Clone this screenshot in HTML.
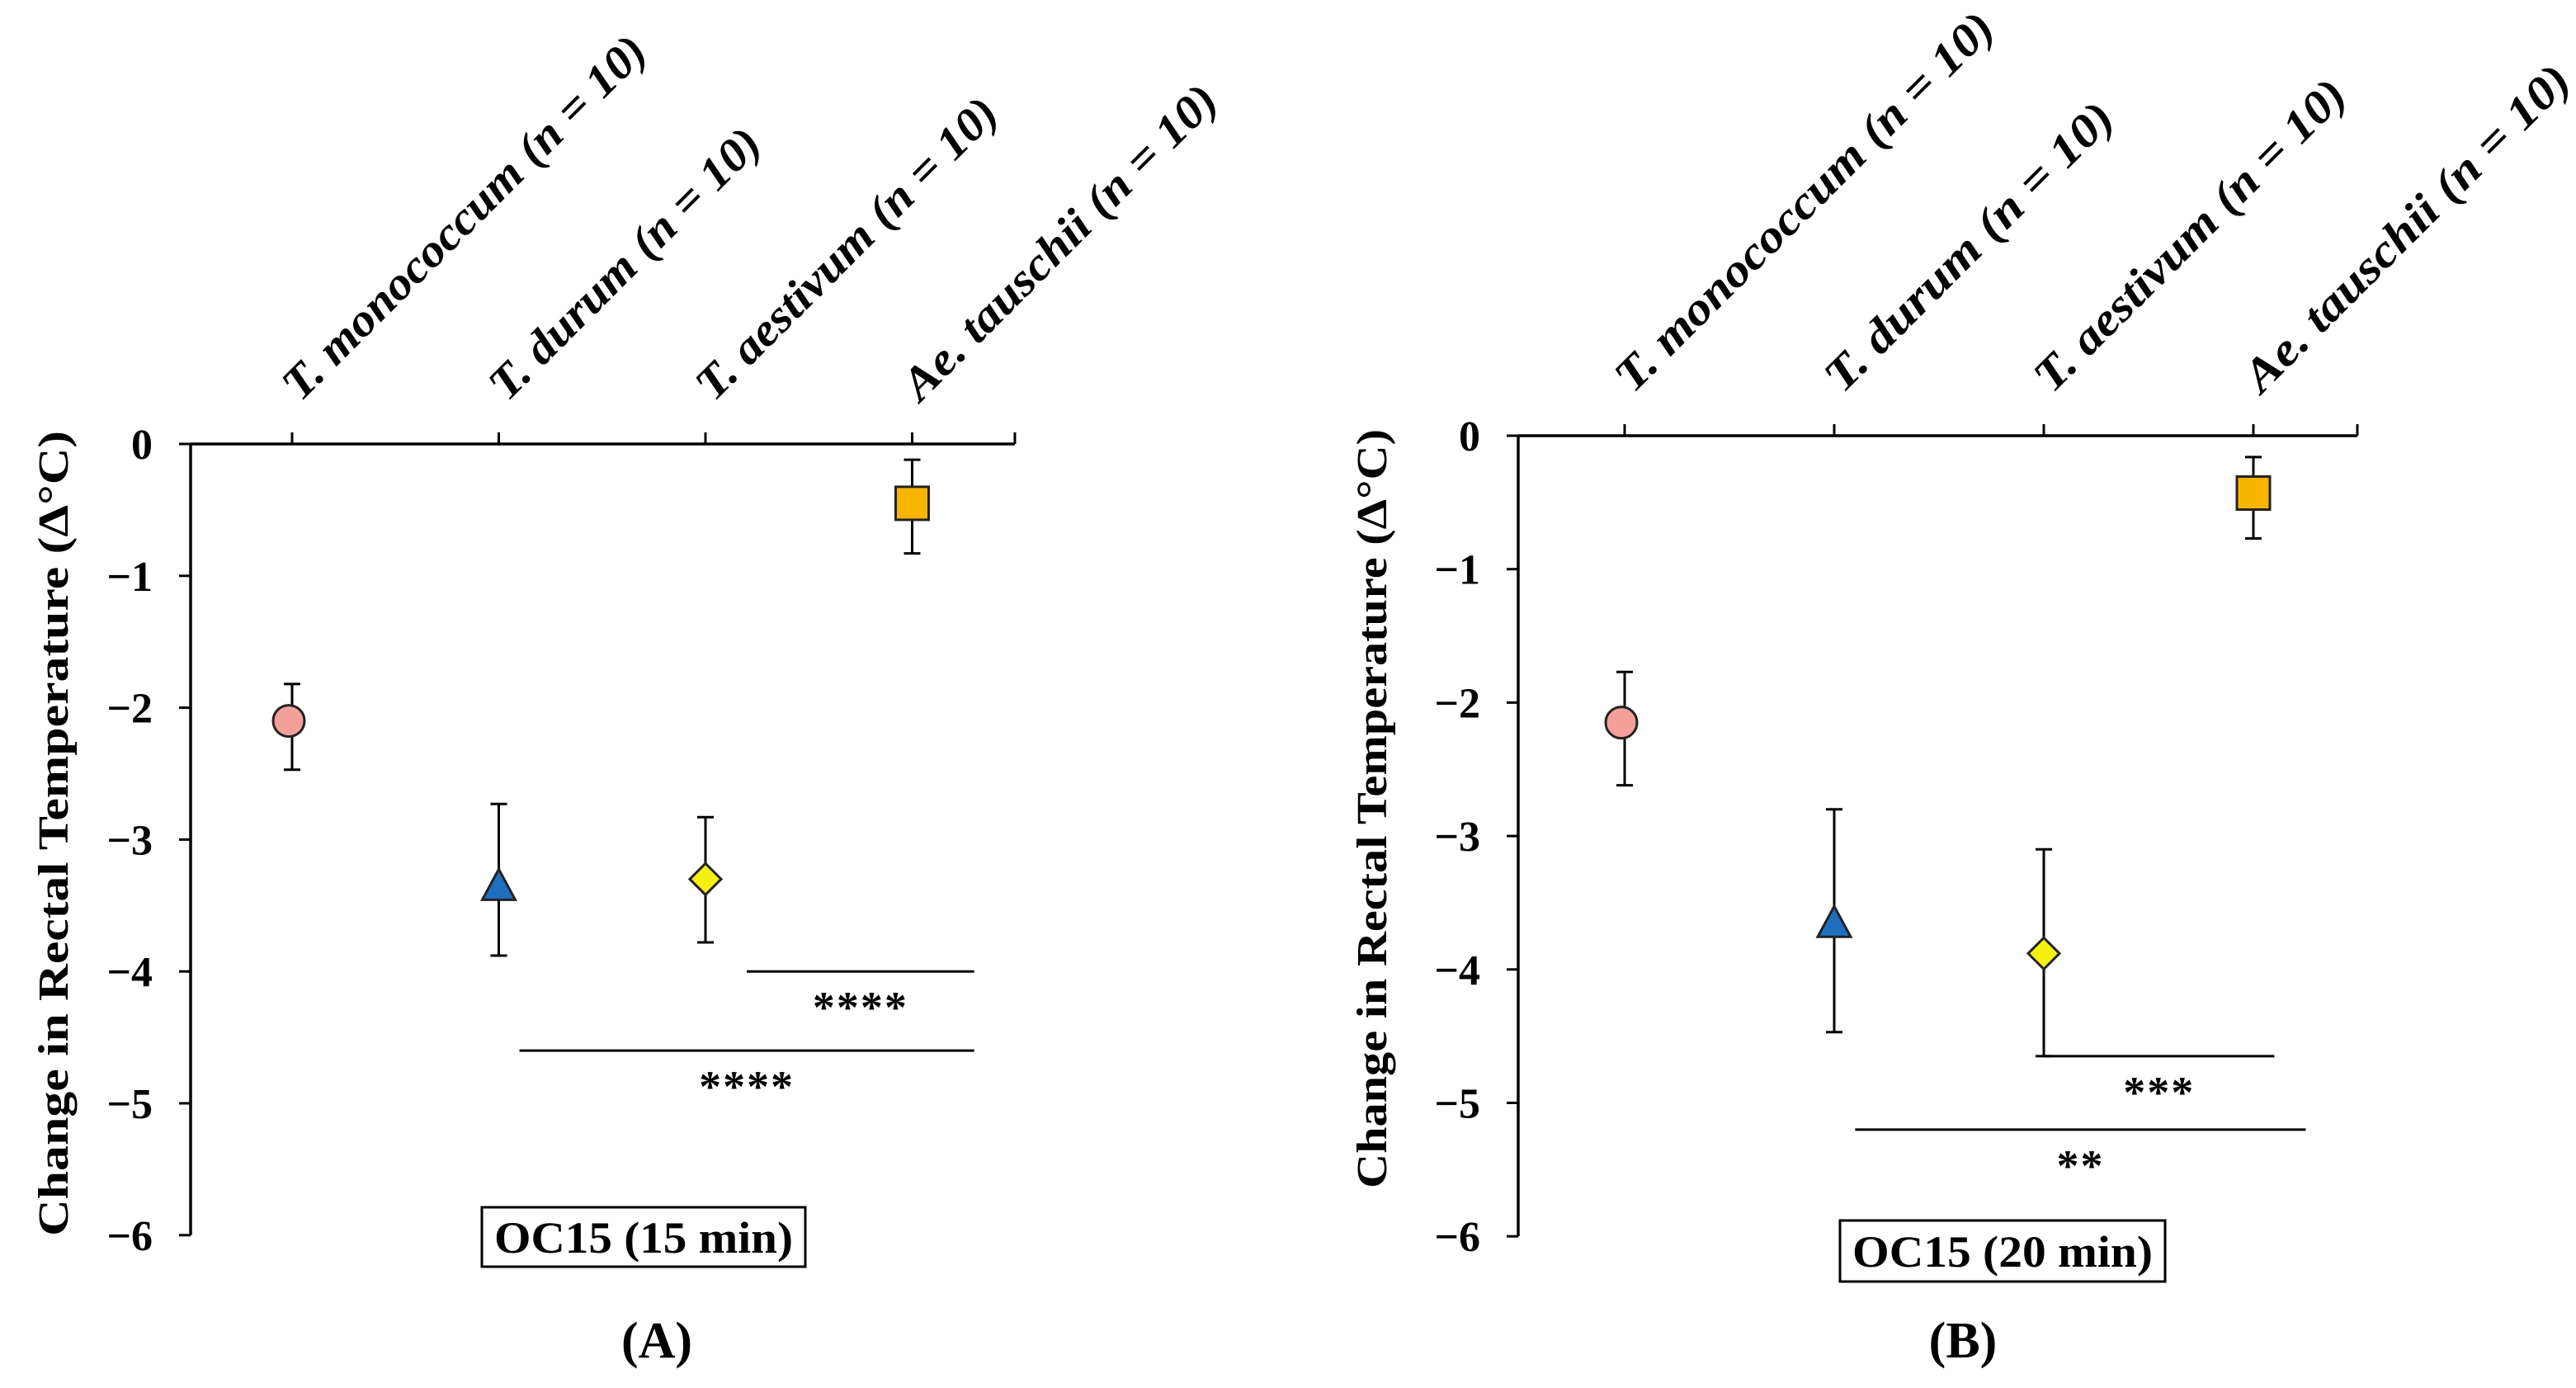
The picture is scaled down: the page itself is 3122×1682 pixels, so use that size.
<!DOCTYPE html>
<html><head><meta charset="utf-8"><style>
html,body{margin:0;padding:0;background:#fff;}
svg{display:block;}
text{font-family:"Liberation Serif",serif;fill:#000;}
</style></head><body>
<svg id="fig" width="3122" height="1682" viewBox="0 0 3122 1682" xmlns="http://www.w3.org/2000/svg"></svg>
<script>
const categoriesA = ["T. monococcum (n = 10)","T. durum (n = 10)","T. aestivum (n = 10)","Ae. tauschii (n = 10)"];
const categoriesB = ["T. monococcum  (n = 10)","T. durum  (n = 10)","T. aestivum (n = 10)","Ae. tauschii (n = 10)"];
const meansA = [-2.1,-3.35,-3.3,-0.45];
const upperA = [-1.82,-2.73,-2.83,-0.12];
const lowerA = [-2.47,-3.88,-3.78,-0.83];
const meansB = [-2.15,-3.65,-3.88,-0.43];
const upperB = [-1.77,-2.8,-3.1,-0.16];
const lowerB = [-2.62,-4.47,-4.65,-0.77];
const yTicks = [0,-1,-2,-3,-4,-5,-6];
const yTickLabels = ["0","\u22121","\u22122","\u22123","\u22124","\u22125","\u22126"];
const sigA = [{from:2.2,to:3.3,y:-4.0,label:"****"},{from:1.1,to:3.3,y:-4.6,label:"****"}];
const sigB = [{from:2.0,to:3.1,y:-4.65,label:"***"},{from:1.1,to:3.25,y:-5.2,label:"**"}];

const svg = document.getElementById('fig');
const NS = "http://www.w3.org/2000/svg";
function mk(tag, attrs, parent){
  const e = document.createElementNS(NS, tag);
  for (const k in attrs) e.setAttribute(k, attrs[k]);
  (parent||svg).appendChild(e);
  return e;
}
const colors = ["#f4a09a","#1f6fc0","#f6f010","#f7b500"];
const shapes = ["circle","triangle","diamond","square"];

function panel(p){
  const g = mk('g',{});
  
  
  const yS = v => p.y0 + (-v) * p.unit;
  const xS = i => p.x0 + i * p.step;
  const ax = mk('line',{x1:p.ax,y1:p.y0,x2:p.axEnd,y2:p.y0,stroke:'#000','stroke-width':3.5},g);
  
  
  const ay = mk('line',{x1:p.ax,y1:p.y0,x2:p.ax,y2:yS(-6),stroke:'#000','stroke-width':3.5},g);
  
  
  mk('line',{x1:p.axEnd,y1:p.y0,x2:p.axEnd,y2:p.y0-14,stroke:'#000','stroke-width':3},g);
  yTicks.forEach((v,i)=>{
    mk('line',{x1:p.ax-14,y1:yS(v),x2:p.ax,y2:yS(v),stroke:'#000','stroke-width':3},g);
    const t = mk('text',{x:p.ax-46,y:yS(v)+18,'text-anchor':'end','font-size':52,'font-weight':'bold'},g);
    t.textContent = yTickLabels[i];
    
    
  });
  p.cats.forEach((c,i)=>{
    mk('line',{x1:xS(i),y1:p.y0,x2:xS(i),y2:p.y0-14,stroke:'#000','stroke-width':3},g);
    const t = mk('text',{x:0,y:0,'font-size':56,'font-weight':'bold','font-style':'italic',
      textLength:p.lens[i],lengthAdjust:'spacingAndGlyphs',
      transform:`translate(${xS(i)+10},${p.y0-50}) rotate(-45)`},g);
    t.textContent = c;
    
    
  });
  const yt = mk('text',{x:0,y:0,'text-anchor':'middle','font-size':52,'font-weight':'bold',
    textLength:p.ytLen,lengthAdjust:'spacingAndGlyphs',
    transform:`translate(${p.ytX},${p.ytY}) rotate(-90)`},g);
  yt.textContent = "Change in Rectal Temperature (\u0394\u00B0C)";
  
  
  p.sig.forEach(s=>{
    const l = mk('line',{x1:xS(0)+s.from*p.step,y1:yS(s.y),x2:xS(0)+s.to*p.step,y2:yS(s.y),stroke:'#000','stroke-width':3},g);
    
    
    const t = mk('text',{x:xS(0)+(s.from+s.to)/2*p.step,y:yS(s.y)+62,'text-anchor':'middle','font-size':54,'font-weight':'bold','letter-spacing':2},g);
    t.textContent = s.label;
    
    
  });
  p.means.forEach((m,i)=>{
    const x = xS(i);
    const e = mk('g',{},g);
    
    
    mk('line',{x1:x,y1:yS(p.upper[i]),x2:x,y2:yS(p.lower[i]),stroke:'#000','stroke-width':3},e);
    mk('line',{x1:x-10,y1:yS(p.upper[i]),x2:x+10,y2:yS(p.upper[i]),stroke:'#000','stroke-width':3},e);
    mk('line',{x1:x-10,y1:yS(p.lower[i]),x2:x+10,y2:yS(p.lower[i]),stroke:'#000','stroke-width':3},e);
    const y = yS(m);
    let mark;
    if (shapes[i]==='circle') mark = mk('circle',{cx:x-4,cy:y,r:19},g);
    else if (shapes[i]==='triangle') mark = mk('polygon',{points:`${x},${y-20} ${x+20},${y+17} ${x-20},${y+17}`},g);
    else if (shapes[i]==='diamond') mark = mk('polygon',{points:`${x},${y-19} ${x+19},${y} ${x},${y+19} ${x-19},${y}`},g);
    else mark = mk('rect',{x:x-20,y:y-20,width:40,height:40},g);
    mark.setAttribute('fill',colors[i]);
    mark.setAttribute('stroke','#222');
    mark.setAttribute('stroke-width',3);
    
    
  });
  const bx = mk('g',{},g);
  
  
  mk('rect',{x:p.box[0],y:p.box[1],width:p.box[2],height:p.box[3],fill:'#fff',stroke:'#000','stroke-width':3},bx);
  const bt = mk('text',{x:p.box[0]+p.box[2]/2,y:p.box[1]+p.box[3]/2+19,'text-anchor':'middle','font-size':54,'font-weight':'bold',
    textLength:p.box[2]-30,lengthAdjust:'spacingAndGlyphs'},bx);
  bt.textContent = p.boxLabel;
  const pl = mk('text',{x:p.panelLbl[0],y:p.panelLbl[1],'text-anchor':'middle','font-size':62,'font-weight':'bold'},g);
  pl.textContent = p.panelText;
  
  
}

panel({name:'panel-a',cats:categoriesA,means:meansA,upper:upperA,lower:lowerA,sig:sigA,
  ax:231,axEnd:1230,y0:538,unit:159.8,x0:354,step:250.5,
  lens:[598,440,492,514],ytX:82,ytY:1010,ytLen:976,
  box:[584,1463,392,72],boxLabel:'OC15 (15 min)',panelLbl:[796,1645],panelText:'(A)'});
panel({name:'panel-b',cats:categoriesB,means:meansB,upper:upperB,lower:lowerB,sig:sigB,
  ax:1840,axEnd:2857,y0:528,unit:161.7,x0:1969,step:254,
  lens:[624,470,509,534],ytX:1680,ytY:980,ytLen:920,
  box:[2230,1479,394,74],boxLabel:'OC15 (20 min)',panelLbl:[2379,1645],panelText:'(B)'});
</script>
</body></html>
